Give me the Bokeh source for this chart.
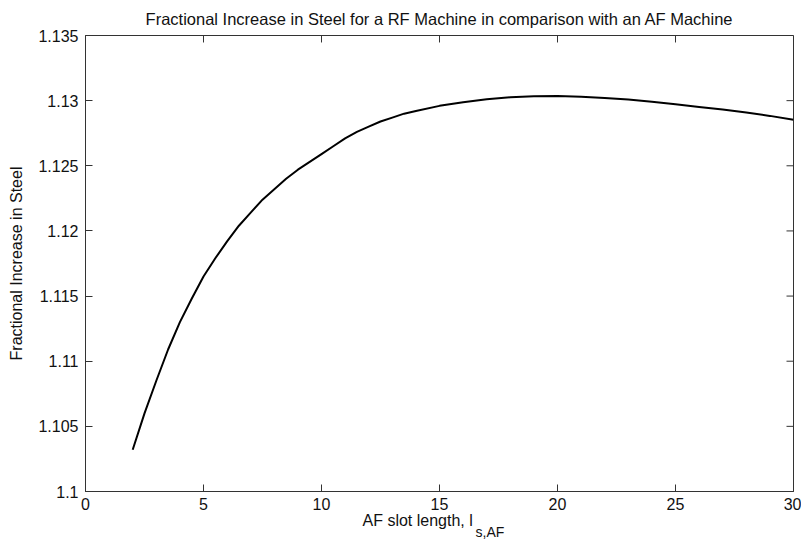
from bokeh.plotting import figure
from bokeh.models import Range1d, LinearAxis, FixedTicker, CustomJSTickFormatter, Title
from bokeh.embed import file_html
from bokeh.resources import INLINE

# ---- data ----
slot_length = [2, 2.5, 3, 3.5, 4, 4.5, 5, 5.5, 6, 6.5, 7, 7.5, 8, 8.5, 9, 9.5, 10,
               10.5, 11, 11.5, 12, 12.5, 13, 13.5, 14, 15, 16, 17, 18, 19, 20,
               21, 22, 23, 24, 25, 26, 27, 28, 29, 30]
steel_increase = [1.1032, 1.1060, 1.1085, 1.1109, 1.1130, 1.1148, 1.1165, 1.1179, 1.1192,
                  1.1204, 1.1214, 1.1224, 1.1232, 1.1240, 1.1247, 1.1253, 1.1259,
                  1.1265, 1.1271, 1.1276, 1.1280, 1.1284, 1.1287, 1.1290, 1.1292,
                  1.12960, 1.12988, 1.13010, 1.13026, 1.13034, 1.13035,
                  1.13030, 1.13020, 1.13008, 1.12992, 1.12972, 1.12952, 1.12932, 1.12909,
                  1.12883, 1.12853]
x_ticks = [0, 5, 10, 15, 20, 25, 30]
y_ticks = [1.1, 1.105, 1.11, 1.115, 1.12, 1.125, 1.13, 1.135]

title_text = "Fractional Increase in Steel for a RF Machine in comparison with an AF Machine"
ylabel_text = "Fractional Increase in Steel"
xlabel_main = "AF slot length, l"
xlabel_sub = "s,AF"

FONT = "Liberation Sans"
AX_COLOR = "#333333"
TXT = "#111111"
X_MIN, X_MAX = x_ticks[0], x_ticks[-1]
Y_MIN, Y_MAX = y_ticks[0], y_ticks[-1]

W, H = 801, 546
B_LEFT, B_RIGHT, B_TOP, B_BOTTOM = 85, 8, 33, 55
FRAME_W = W - B_LEFT - B_RIGHT
FRAME_H = H - B_TOP - B_BOTTOM
TICK_PX = 7

p = figure(width=W, height=H, output_backend="svg", toolbar_location=None,
           x_range=Range1d(X_MIN, X_MAX), y_range=Range1d(Y_MIN, Y_MAX),
           min_border_left=B_LEFT, min_border_right=B_RIGHT, min_border_top=B_TOP,
           min_border_bottom=B_BOTTOM,
           x_axis_location=None, y_axis_location=None)
p.xgrid.visible = False
p.ygrid.visible = False
p.outline_line_color = AX_COLOR
p.outline_line_width = 1
p.background_fill_color = "white"
p.border_fill_color = "white"

p.title.text = title_text
p.title.align = "center"
p.title.offset = -8
p.title.text_font = FONT
p.title.text_font_size = "16.5px"
p.title.text_font_style = "normal"
p.title.text_color = TXT
p.title.standoff = 15

yfmt = CustomJSTickFormatter(code="return parseFloat(tick.toFixed(4)).toString();")

def style(ax):
    ax.axis_line_color = AX_COLOR
    ax.axis_line_width = 1
    ax.major_tick_line_color = AX_COLOR
    ax.major_tick_in = TICK_PX
    ax.major_tick_out = 0
    ax.minor_tick_line_color = None
    ax.major_label_text_font = FONT
    ax.major_label_text_color = TXT
    ax.major_label_text_font_size = "16px"

xb = LinearAxis(ticker=FixedTicker(ticks=x_ticks))
style(xb)
xb.major_label_standoff = 6
p.add_layout(xb, "below")

yl = LinearAxis(ticker=FixedTicker(ticks=y_ticks), formatter=yfmt)
style(yl)
yl.major_label_standoff = 7
yl.axis_label = ylabel_text
yl.axis_label_text_font = FONT
yl.axis_label_text_font_size = "16px"
yl.axis_label_text_font_style = "normal"
yl.axis_label_text_color = TXT
yl.axis_label_standoff = 10
p.add_layout(yl, "left")

# x-axis label "AF slot length, l" with subscript "s,AF", stacked under the axis
t_main = Title(text=xlabel_main, align="left", offset=277, standoff=-5,
               text_font=FONT, text_font_size="16px", text_font_style="normal",
               text_color=TXT)
t_sub = Title(text=xlabel_sub, align="left", offset=390, standoff=-9,
              text_font=FONT, text_font_size="14px", text_font_style="normal",
              text_color=TXT)
p.add_layout(t_main, "below")
p.add_layout(t_sub, "below")

# inward ticks on the top and right edges of the box
dy = TICK_PX * (Y_MAX - Y_MIN) / FRAME_H
dx = TICK_PX * (X_MAX - X_MIN) / FRAME_W
p.segment(x0=x_ticks, y0=[Y_MAX] * len(x_ticks), x1=x_ticks, y1=[Y_MAX - dy] * len(x_ticks),
          line_color=AX_COLOR, line_width=1)
p.segment(x0=[X_MAX] * len(y_ticks), y0=y_ticks, x1=[X_MAX - dx] * len(y_ticks), y1=y_ticks,
          line_color=AX_COLOR, line_width=1)

p.line(slot_length, steel_increase, line_color="black", line_width=2)

open("out.html", "w").write(file_html(p, INLINE))
